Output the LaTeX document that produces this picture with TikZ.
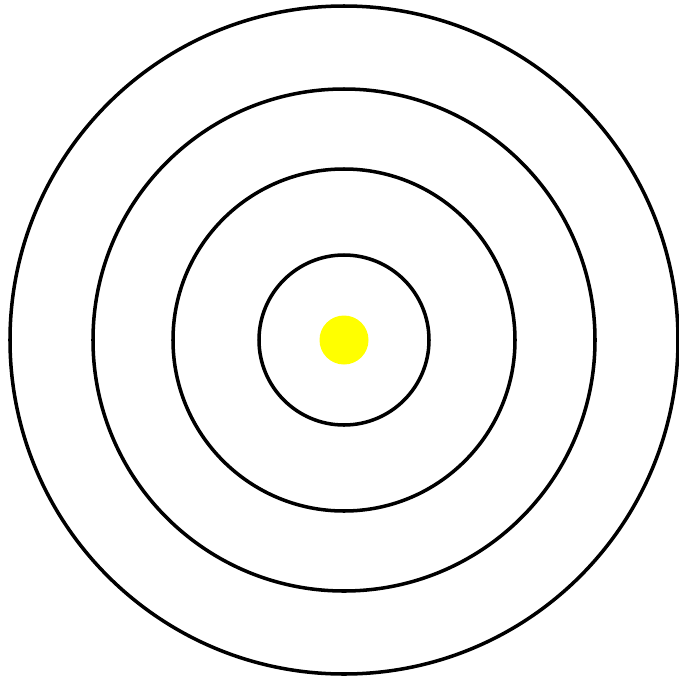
\documentclass[tikz,border=0pt]{standalone}
\usepackage{tikz}
\usepackage{xcolor}
\definecolor{dotyellow}{RGB}{255, 255, 0}

\begin{document}
\begin{tikzpicture}
      \useasboundingbox (0,0) rectangle (6.78,-6.81);
      \fill[white] (0,0) rectangle (6.78,-6.81);
      \coordinate (centre) at (3.44,-3.40);
      \draw[black, line width=1pt] (centre) circle (0.85);
      \draw[black, line width=1pt] (centre) circle (1.71);
      \draw[black, line width=1pt] (centre) circle (2.51);
      \draw[black, line width=1pt] (centre) circle (3.34);
      \fill[dotyellow] (centre) circle (0.245);
    \end{tikzpicture}
\end{document}
